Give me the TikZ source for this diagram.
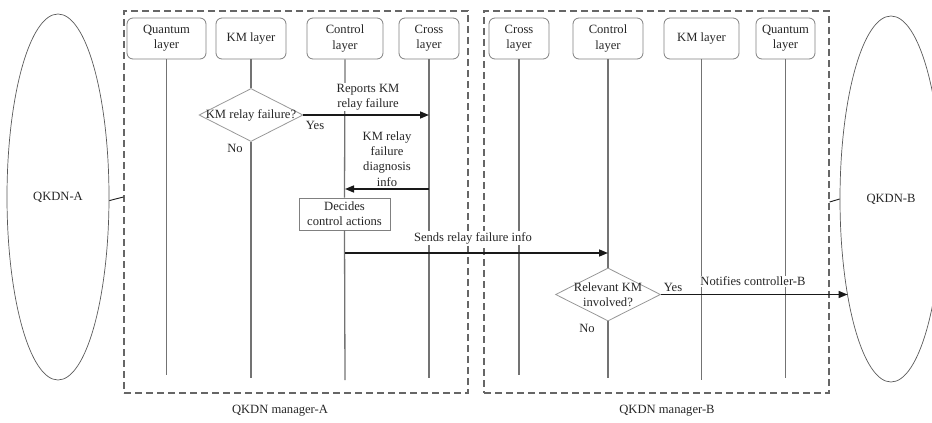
\documentclass[tikz,border=0pt]{standalone}
\usepackage{fontspec}
\setmainfont{Liberation Serif}
\usetikzlibrary{shapes.geometric,arrows.meta}

\begin{document}
\begin{tikzpicture}[x=1pt,y=-1pt,
  every node/.style={font=\fontsize{12.6}{15.3}\selectfont, text=black!85},
  layerbox/.style={draw=black!50, line width=0.8pt, rounded corners=6pt, fill=white,
    align=center, inner sep=0pt, minimum height=41pt},
  lifeline/.style={draw=black!55, line width=1.3pt},
  manager/.style={draw=black!60, line width=1.2pt, dash pattern=on 7pt off 4pt,
    inner sep=0pt, minimum height=382pt},
  network/.style={ellipse, draw=black!65, line width=0.7pt, inner sep=0pt,
    minimum width=102pt, minimum height=366pt},
  decision/.style={diamond, draw=black!40, line width=0.8pt, fill=white, inner sep=0pt,
    minimum height=53pt},
  actbox/.style={draw=black!50, line width=0.8pt, fill=white, align=center, inner sep=0pt},
  msg/.style={draw=black!90, line width=1.5pt, -{Triangle[length=9pt,width=7pt]}},
  msglabel/.style={fill=white, align=center, inner sep=1pt},
  tag/.style={inner sep=0pt},
  link/.style={draw=black!90, line width=0.9pt},
]
\useasboundingbox (0,0) rectangle (932,423);
\clip (0,0) rectangle (932,423);

% networks on both sides
\node[network] (qkdnA) at (58,197) {QKDN-A};
\node[network] (qkdnB) at (891,199) {QKDN-B};

% manager frames
\node[manager, minimum width=344pt] (mgrA) at (296,202) {};
\node[manager, minimum width=345pt] (mgrB) at (656.5,202) {};
\node[tag] (mgrAlbl) at (280,411) {QKDN manager-A};
\node[tag] (mgrBlbl) at (667,411) {QKDN manager-B};

\draw[link] (qkdnA.-4) -- (mgrA.west |- qkdnA.center);
\draw[link] (mgrB.east) -- (qkdnB.west);

% layer heads
\node[layerbox, minimum width=79pt] (qA)   at (166.5,38.5) {Quantum\\layer};
\node[layerbox, minimum width=70pt] (kmA)  at (251,38.5)   {KM layer};
\node[layerbox, minimum width=76pt] (ctlA) at (345,38.5)   {Control\\layer};
\node[layerbox, minimum width=60pt] (crA)  at (429,38.5)   {Cross\\layer};
\node[layerbox, minimum width=60pt] (crB)  at (519,38.5)   {Cross\\layer};
\node[layerbox, minimum width=70pt] (ctlB) at (608,38.5)   {Control\\layer};
\node[layerbox, minimum width=75pt] (kmB)  at (701.5,38.5) {KM layer};
\node[layerbox, minimum width=59pt] (qB)   at (785.5,38.5) {Quantum\\layer};

% lifeline ends
\coordinate (qAend)   at (166.5,375);
\coordinate (kmAend)  at (251,378);
\coordinate (ctlAend) at (345,380);
\coordinate (crAend)  at (429,378);
\coordinate (crBend)  at (519,375);
\coordinate (ctlBend) at (608,378);
\coordinate (kmBend)  at (701.5,380);
\coordinate (qBend)   at (785.5,378);

% decisions and actions
\node[decision, minimum width=104pt] (dA) at (251,115) {};
\node[tag] (dAtxt) at (dA) {KM relay failure?};
\node[decision, minimum width=105pt] (dB) at (608,294.5) {};
\node[tag, align=center] (dBtxt) at (dB) {Relevant KM\\involved?};
\node[actbox, minimum width=91pt, minimum height=32pt] (act) at (344.5,214)
  {Decides\\control actions};

% lifelines
\draw[lifeline] (qA.south) -- (qAend);
\draw[lifeline] (kmA.south) -- (dA.north);
\draw[lifeline] (dA.south) -- (kmAend);
\draw[lifeline] (ctlA.south) -- (act.north);
\draw[lifeline] (act.south) -- (ctlAend);
\draw[lifeline] (crA.south) -- (crAend);
\draw[lifeline] (crB.south) -- (crBend);
\draw[lifeline] (ctlB.south) -- (dB.north);
\draw[lifeline] (dB.south) -- (ctlBend);
\draw[lifeline] (kmB.south) -- (kmBend);
\draw[lifeline] (qB.south) -- (qBend);

% messages
\draw[msg] (dA.east) -- (crA |- dA.east);
\draw[msg] (crA |- 0,189) -- (ctlA |- 0,189);
\draw[msg] (ctlA |- 0,253) -- (ctlB |- 0,253);
\draw[msg] (dB.east) -- (qkdnB.246 |- dB.east);

% message labels
\node[msglabel] (lblRep)  at (368,97)  {Reports KM\\relay failure};
\node[msglabel] (lblDiag) at (387,159) {KM relay\\failure\\diagnosis\\info};
\node[msglabel] (lblSend) at (473,238) {Sends relay failure info};
\node[msglabel] (lblNote) at (753,281) {Notifies controller-B};
\node[tag] (yesA) at (315,125) {Yes};
\node[tag] (noA)  at (235,148) {No};
\node[tag] (yesB) at (673,287) {Yes};
\node[tag] (noB)  at (587,328) {No};
\end{tikzpicture}
\end{document}
